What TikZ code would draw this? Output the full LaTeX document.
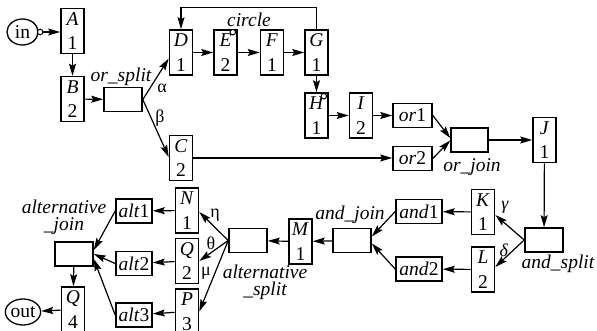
\documentclass[tikz,border=0pt]{standalone}
\usepackage{fontspec}
\setmainfont{Liberation Serif}
\usetikzlibrary{arrows.meta,shapes.geometric}
\tikzset{
  tbox/.style={draw, line width=1.6pt, minimum width=23pt, minimum height=45pt, inner sep=0pt, align=center, font=\fontsize{19.5}{24.5}\selectfont},
  sbox/.style={draw, line width=1.6pt, minimum width=38pt, minimum height=24pt, inner sep=0pt, font=\fontsize{19.5}{24.5}\selectfont},
  term/.style={draw, ellipse, line width=1.3pt, minimum width=31pt, minimum height=26pt, inner sep=0pt, font=\fontsize{19.5}{24.5}\selectfont},
  port/.style={draw, circle, fill=white, line width=1pt, minimum size=5.5pt, inner sep=0pt},
  arr/.style={-{Stealth[length=12pt,width=7pt,inset=2pt]}, line width=1.2pt},
  lab/.style={inner sep=0pt, align=center, font=\fontsize{19.5}{17}\selectfont\itshape},
  glab/.style={inner sep=0pt, font=\fontsize{18}{18}\selectfont}
}
\begin{document}
\begin{tikzpicture}[x=1pt,y=-1pt]
\useasboundingbox (0,0) rectangle (597,331);
% terminals
\node[term] (in) at (22.5,32) {in};
\node[port] (inport) at ([xshift=1.5pt]in.east) {};
\node[term] (out) at (23,312) {out};
% task boxes
\node[tbox] (A) at (72.5,31) {\textit{A}\\1};
\node[tbox] (B) at (72.5,99) {\textit{B}\\2};
\node[tbox] (D) at (181,52.5) {\textit{D}\\1};
\node[tbox] (E) at (225.5,52.5) {\textit{E}\\2};
\node[tbox] (F) at (272,52.5) {\textit{F}\\1};
\node[tbox] (G) at (316.5,52.5) {\textit{G}\\1};
\node[tbox] (H) at (316.5,115.5) {\textit{H}\\1};
\node[tbox] (I) at (361,115.5) {\textit{I}\\2};
\node[tbox] (C) at (181,158) {\textit{C}\\2};
\node[tbox] (J) at (544.5,140) {\textit{J}\\1};
\node[tbox] (K) at (483,212) {\textit{K}\\1};
\node[tbox] (L) at (483,269.5) {\textit{L}\\2};
\node[tbox] (M) at (300.5,241.5) {\textit{M}\\1};
\node[tbox] (N) at (187,210.5) {\textit{N}\\1};
\node[tbox] (Q2) at (187,261) {\textit{Q}\\2};
\node[tbox] (P) at (187,311.5) {\textit{P}\\3};
\node[tbox] (Q4) at (73,309.5) {\textit{Q}\\4};
\node[port] (Eport) at ([shift={(-5,3)}]E.north east) {};
\node[port] (Hport) at ([shift={(-5,4)}]H.north east) {};
% small boxes
\node[sbox] (orsplit) at (123,99.5) {};
\node[sbox, minimum width=39pt] (or1) at (412.5,115.5) {\textit{or}1};
\node[sbox, minimum width=39pt] (or2) at (412.5,158.5) {\textit{or}2};
\node[sbox, minimum width=37pt] (orjoin) at (469.5,140) {};
\node[sbox] (andsplit) at (544,240) {};
\node[sbox, minimum width=46pt] (and1) at (419,211.5) {\textit{and}1};
\node[sbox, minimum width=46pt] (and2) at (419,269) {\textit{and}2};
\node[sbox] (andjoin) at (352,240.5) {};
\node[sbox] (altsplit) at (248,240.5) {};
\node[sbox, minimum width=36pt] (alt1) at (134,211) {\textit{alt}1};
\node[sbox, minimum width=36pt] (alt2) at (134,263.5) {\textit{alt}2};
\node[sbox, minimum width=36pt] (alt3) at (134,315) {\textit{alt}3};
\node[sbox] (altjoin) at (74,254) {};
% labels
\node[lab] (lcircle) at (249,20) {circle};
\node[lab] (lorsplit) at (121,77) {or\_split};
\node[lab] (lorjoin) at (472,167) {or\_join};
\node[lab] (landsplit) at (558,264) {and\_split};
\node[lab] (landjoin) at (350,215) {and\_join};
\node[lab] (laltsplit) at (265,282) {alternative\\\_split};
\node[lab] (laltjoin) at (64,217) {alternative\\\_join};
\node[glab] (ga) at (162,88) {α};
\node[glab] (gb) at (160,118) {β};
\node[glab] (gc) at (505,207) {\textit{γ}};
\node[glab] (gd) at (504,250) {\textit{δ}};
\node[glab] (ge) at (215,215) {η};
\node[glab] (gf) at (211,243) {θ};
\node[glab] (gg) at (206,273) {μ};
% connectors
\draw[arr] (inport) -- (A.west |- inport);
\draw[arr] (A) -- (B);
\draw[arr] (B) -- (orsplit);
\draw[arr] (orsplit.east) -- ([yshift=-6pt]D.west);
\draw[arr] (orsplit.east) -- ([yshift=1pt]C.west);
\draw[arr] (D) -- (E);
\draw[arr] (E) -- (F);
\draw[arr] (F) -- (G);
\draw[arr] (G.north) -- ++(0,-22) -| (D.north);
\draw[arr] (G) -- (H);
\draw[arr] (H) -- (I);
\draw[arr] (I) -- (or1);
\draw[arr] (C.east) -- (or2.west |- C.east);
\draw[arr] (or1.east) -- ([yshift=2pt]orjoin.west);
\draw[arr] (or2.east) -- ([yshift=-0.5pt]orjoin.west);
\draw[arr] (orjoin) -- (J);
\draw[arr] (J) -- (andsplit);
\draw[arr] (andsplit.west) -- ([yshift=-3pt]K.east);
\draw[arr] (andsplit.west) -- ([yshift=2.5pt]L.east);
\draw[arr] (K) -- (and1);
\draw[arr] (L) -- (and2);
\draw[arr] (and1.west) -- ([yshift=4pt]andjoin.east);
\draw[arr] (and2.west) -- ([yshift=-3pt]andjoin.east);
\draw[arr] (andjoin) -- (M);
\draw[arr] (M) -- (altsplit);
\draw[arr] (altsplit.west) -- ([yshift=-1.5pt]N.east);
\draw[arr] (altsplit.west) -- (Q2.east);
\draw[arr] (altsplit.west) -- (P.east);
\draw[arr] (N) -- (alt1);
\draw[arr] (Q2) -- (alt2);
\draw[arr] (P) -- (alt3);
\draw[arr] (alt1.west) -- ([yshift=4pt]altjoin.east);
\draw[arr] (alt2.west) -- (altjoin.east);
\draw[arr] (alt3.west) -- ([yshift=-5pt]altjoin.east);
\draw[arr] (altjoin) -- (Q4);
\draw[arr] (Q4) -- (out);
\end{tikzpicture}
\end{document}
